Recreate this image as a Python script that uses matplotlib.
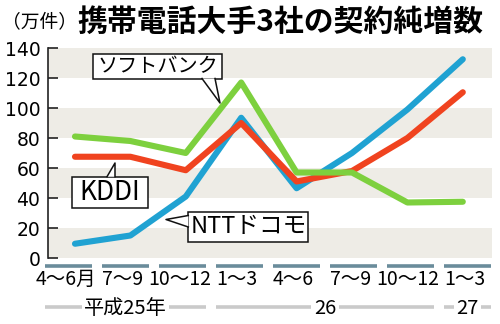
import matplotlib
matplotlib.use('Agg')
import matplotlib.pyplot as plt
import matplotlib.transforms as mtransforms
from matplotlib.patches import Rectangle, Polygon
from matplotlib.lines import Line2D

plt.rcParams['font.family'] = ['Noto Sans CJK JP', 'DejaVu Sans']

# data (万件)
periods = ['4〜6月', '7〜9', '10〜12', '1〜3', '4〜6', '7〜9', '10〜12', '1〜3']
years = ['平成25年', '26', '27']
year_spans = [(0, 2), (3, 6), (7, 7)]
softbank = [81, 78, 70, 117, 57, 57, 37, 37.5]
kddi = [67.5, 67.5, 58.5, 90, 51, 58, 80, 110.5]
docomo = [9.5, 15, 41, 93.5, 46.5, 70, 99, 132.5]
yticks = [0, 20, 40, 60, 80, 100, 120, 140]

GREEN = '#7dd03e'
RED = '#f0431f'
BLUE = '#20a2d2'
BAND = '#eeece6'

W, H = 500, 324
fig = plt.figure(figsize=(W / 100, H / 100), dpi=100)
px = mtransforms.Affine2D().scale(1 / W, -1 / H).translate(0, 1) + fig.transFigure

ax = fig.add_axes([48 / W, (H - 258) / H, 444 / W, 210 / H])
x = list(range(len(periods)))
for lo in yticks[::2]:
    ax.axhspan(lo, lo + 20, color=BAND, lw=0, zorder=0)
for vals, col in ((docomo, BLUE), (kddi, RED), (softbank, GREEN)):
    ax.plot(x, vals, color=col, lw=4.4, solid_joinstyle='round',
            solid_capstyle='round', zorder=3)
ax.set_xlim(-0.487, 7.527)
ax.set_ylim(0, 140)
ax.set_yticks(yticks)
ax.set_xticks([])
for s in ('top', 'right', 'bottom'):
    ax.spines[s].set_visible(False)
ax.spines['left'].set_color('#222222')
ax.spines['left'].set_linewidth(1.2)
ax.tick_params(axis='y', direction='in', length=7.5, width=1.2, color='#222222',
               pad=5.5, labelsize=13.5)
for lab in ax.get_yticklabels():
    lab.set_fontfamily('DejaVu Sans')
ax.set_facecolor('white')

# category strip below the plot
ax2 = fig.add_axes([48 / W, 0, 444 / W, (H - 258) / H])
ax2.set_xlim(-0.36, 7.43)
ax2.set_ylim(66, 0)
ax2.axis('off')
for i, p in enumerate(periods):
    ax2.hlines(7.7, i - 0.42, i + 0.42, color='#6a8c9b', lw=2.6, clip_on=False)
    ax2.text(i - 0.05, 21.5, p, ha='center', va='center', fontsize=14)
for name, (a, b) in zip(years, year_spans):
    ax2.hlines(48.5, a - 0.42, b + 0.42, color='#cacaca', lw=2.6, clip_on=False)
    ax2.text((a + b) / 2, 50, name, ha='center', va='center', fontsize=14.5,
             bbox=dict(boxstyle='square,pad=0.12', fc='white', ec='none'))

# title
fig.text(2, 22, '（万件）', transform=px, ha='left', va='center', fontsize=13.5)
fig.text(77, 22, '携帯電話大手3社の契約純増数', transform=px, ha='left',
         va='center', fontsize=21.5, fontweight='bold')


def callout(text, box, tail, size):
    x0, y0, x1, y1 = box
    fig.add_artist(Rectangle((x0, y0), x1 - x0, y1 - y0, transform=px,
                             fc='white', ec='#111111', lw=1.1, zorder=5))
    b0, tip, b1 = tail
    fig.add_artist(Polygon([b0, tip, b1], closed=True, transform=px,
                           fc='white', ec='none', zorder=6))
    fig.add_artist(Line2D([b0[0], tip[0], b1[0]], [b0[1], tip[1], b1[1]],
                          transform=px, color='#111111', lw=1.1, zorder=7))
    fig.text((x0 + x1) / 2, (y0 + y1) / 2, text, transform=px, ha='center',
             va='center', fontsize=size, zorder=8)


callout('ソフトバンク', (93, 54, 222, 78.5),
        [(202, 78.5), (220, 103), (215, 78.5)], 14.5)
callout('KDDI', (71.5, 176.7, 147.5, 208.3),
        [(107, 176.7), (115, 163), (115, 176.7)], 19)
callout('NTTドコモ', (188.3, 212.3, 308.3, 241.7),
        [(188.3, 215.5), (166, 219.5), (188.3, 227)], 17)

fig.savefig('out.png', dpi=100)
